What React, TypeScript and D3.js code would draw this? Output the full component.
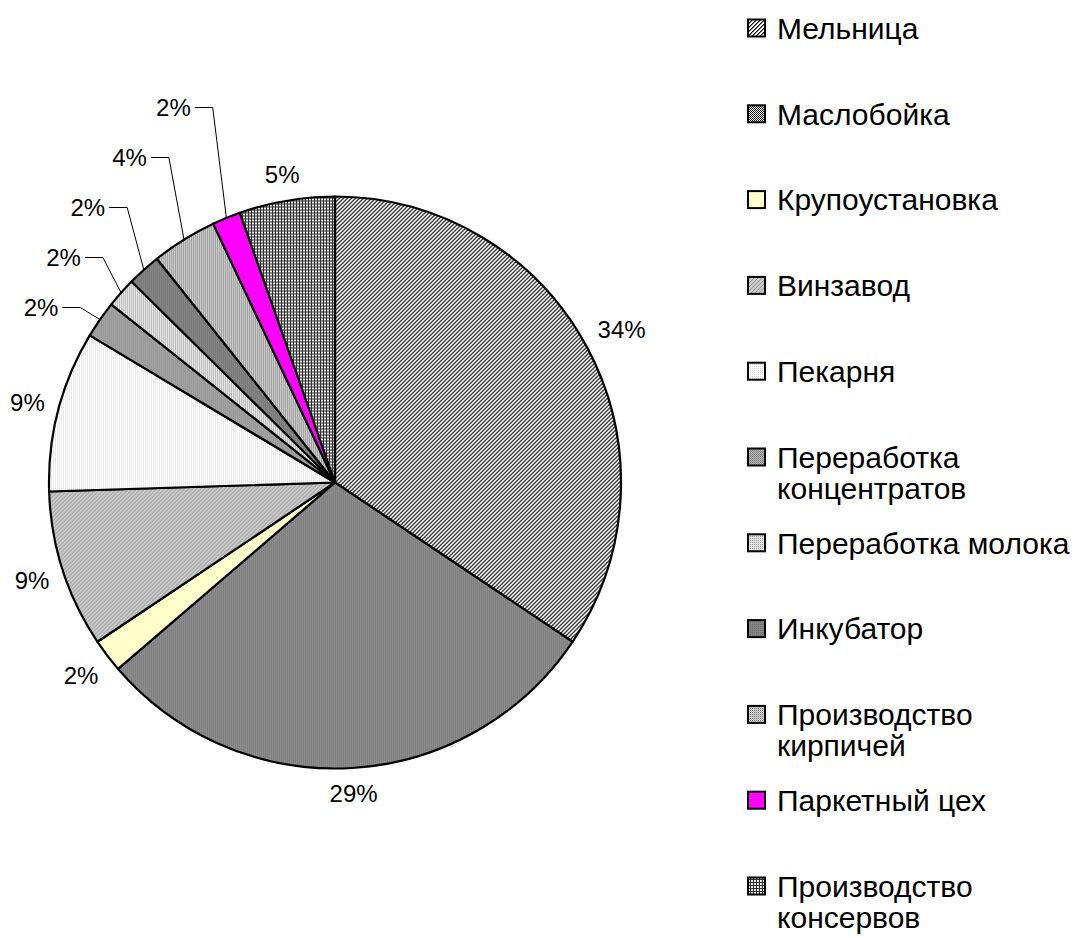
import React from "react";
import * as d3 from "d3";

const categories = [
  "Мельница",
  "Маслобойка",
  "Крупоустановка",
  "Винзавод",
  "Пекарня",
  "Переработка концентратов",
  "Переработка молока",
  "Инкубатор",
  "Производство кирпичей",
  "Паркетный цех",
  "Производство консервов",
];
const shares = [34.4, 29.3, 1.9, 8.9, 9.1, 2.1, 1.7, 1.9, 3.7, 1.6, 5.4];
const fills = [
  "url(#p-hatch)",
  "url(#p-check)",
  "#FFFFCC",
  "url(#p-vin)",
  "url(#p-pek)",
  "url(#p-konc)",
  "url(#p-mol)",
  "url(#p-ink)",
  "url(#p-kirp)",
  "#FF00FF",
  "url(#p-grid)",
];

const W = 1086;
const H = 938;
const FONT = "'Liberation Sans', Arial, sans-serif";
const LABEL_PX = 24;
const LEGEND_PX = 30;

let ctx: CanvasRenderingContext2D | null = null;
function measure(text: string, px: number) {
  if (!ctx) ctx = document.createElement("canvas").getContext("2d");
  if (!ctx) return text.length * px * 0.55;
  ctx.font = `${px}px ${FONT}`;
  return ctx.measureText(text).width;
}

function wrap(text: string, px: number, maxW: number) {
  const words = text.split(" ");
  const lines: string[] = [];
  let cur = "";
  for (const w of words) {
    const t = cur ? cur + " " + w : w;
    if (cur && measure(t, px) > maxW) {
      lines.push(cur);
      cur = w;
    } else cur = t;
  }
  if (cur) lines.push(cur);
  return lines;
}

function Pixels({ id, size, bg, dots }: { id: string; size: number; bg: string; dots: [number, number, string][] }) {
  return (
    <pattern id={id} width={size} height={size} patternUnits="userSpaceOnUse">
      <rect width={size} height={size} fill={bg} />
      {dots.map(([x, y, c], i) => (
        <rect key={i} x={x} y={y} width={1} height={1} fill={c} />
      ))}
    </pattern>
  );
}

function hatchDots(): [number, number, string][] {
  const out: [number, number, string][] = [];
  for (let x = 0; x < 4; x++)
    for (let y = 0; y < 4; y++) {
      const k = (x + y) % 4;
      if (k === 3) out.push([x, y, "#000"]);
      else if (k === 0) out.push([x, y, "#7a7a7a"]);
    }
  return out;
}
function vinDots(): [number, number, string][] {
  const out: [number, number, string][] = [];
  for (let x = 0; x < 4; x++) for (let y = 0; y < 4; y++) if ((x + y) % 4 === 3) out.push([x, y, "#9a9a9a"]);
  return out;
}
function gridDots(): [number, number, string][] {
  const out: [number, number, string][] = [];
  for (let x = 0; x < 3; x++) for (let y = 0; y < 3; y++) if (x === 0 || y === 0) out.push([x, y, "#2e2e2e"]);
  return out;
}

export default function App() {
  const cx = 335;
  const cy = 482.5;
  const r = 286;
  const total = d3.sum(shares);
  const pie = d3.pie<number>().sort(null).value((d) => d)(shares);
  const arc = d3.arc<d3.PieArcDatum<number>>().innerRadius(0).outerRadius(r);

  type Lab = { text: string; x: number; y: number; w: number; leader?: [number, number][] };
  const labels: Lab[] = [];
  let prevLeaderY = Infinity;
  pie.forEach((p, i) => {
    const text = Math.round((shares[i] / total) * 100) + "%";
    const w = measure(text, LABEL_PX);
    const a = (p.startAngle + p.endAngle) / 2;
    const sa = Math.sin(a);
    const ca = Math.cos(a);
    const deg = (a * 180) / Math.PI;
    const isLeader = shares[i] / total < 0.045 && deg > 295 && deg < 345;
    if (!isLeader) {
      const R = r + 12 + (w / 2) * Math.abs(sa) + 12 * Math.abs(ca);
      labels.push({ text, x: cx + R * sa, y: cy - R * ca, w });
    } else {
      const ax = cx + r * sa;
      const ay = cy - r * ca;
      const ly = Math.min(ay - 12, prevLeaderY - 50);
      prevLeaderY = ly;
      const lx = ax - 59 + 1.5 * (labels.filter((l) => l.leader).length);
      const x0 = lx + w / 2 + 4;
      labels.push({
        text,
        x: lx,
        y: ly,
        w,
        leader: [
          [x0, ly],
          [x0 + 18, ly],
          [ax, ay],
        ],
      });
    }
  });

  const legendX = 747;
  const legendTop = 28;
  const legendStep = 85.8;
  const sw = 19;
  const textX = 777;

  return (
    <svg
      width={W}
      height={H}
      style={{ position: "absolute", left: 0, top: 0, background: "#fff" }}
      fontFamily={FONT}
    >
      <defs>
        <Pixels id="p-hatch" size={4} bg="#ffffff" dots={hatchDots()} />
        <Pixels id="p-check" size={2} bg="#ffffff" dots={[[0, 0, "#000"], [1, 1, "#1a1a1a"]]} />
        <Pixels id="p-vin" size={4} bg="#c8c8c8" dots={vinDots()} />
        <Pixels id="p-pek" size={2} bg="#ffffff" dots={[[0, 0, "#d4d4d4"]]} />
        <Pixels id="p-konc" size={2} bg="#b4b4b4" dots={[[0, 0, "#808080"], [1, 1, "#8c8c8c"]]} />
        <Pixels id="p-mol" size={2} bg="#e4e4e4" dots={[[0, 0, "#9a9a9a"]]} />
        <Pixels id="p-ink" size={2} bg="#848484" dots={[[0, 0, "#707070"]]} />
        <Pixels id="p-kirp" size={2} bg="#d8d8d8" dots={[[0, 0, "#6e6e6e"], [1, 1, "#b8b8b8"]]} />
        <Pixels id="p-grid" size={3} bg="#e8e8e8" dots={gridDots()} />
      </defs>

      <g transform={`translate(${cx},${cy})`}>
        {pie.map((p, i) => (
          <path key={i} d={arc(p) || ""} fill={fills[i]} stroke="#000" strokeWidth={2.2} strokeLinejoin="round" />
        ))}
      </g>

      {labels.map((l, i) => (
        <g key={i}>
          {l.leader && (
            <polyline
              points={l.leader.map((q) => q.join(",")).join(" ")}
              fill="none"
              stroke="#000"
              strokeWidth={1}
            />
          )}
          <text x={l.x} y={l.y} dy="0.36em" textAnchor="middle" fontSize={LABEL_PX} fill="#000">
            {l.text}
          </text>
        </g>
      ))}

      {categories.map((c, i) => {
        const yc = legendTop + i * legendStep;
        const lines = wrap(c, LEGEND_PX, W - textX + 4);
        return (
          <g key={c}>
            <rect x={legendX + 1} y={yc - sw / 2 + 1} width={sw - 2} height={sw - 2} fill={fills[i]} stroke="#000" strokeWidth={2} />
            {lines.map((ln, j) => (
              <text key={j} x={textX} y={yc + j * 31} dy="0.36em" fontSize={LEGEND_PX} fill="#000">
                {ln}
              </text>
            ))}
          </g>
        );
      })}
    </svg>
  );
}
